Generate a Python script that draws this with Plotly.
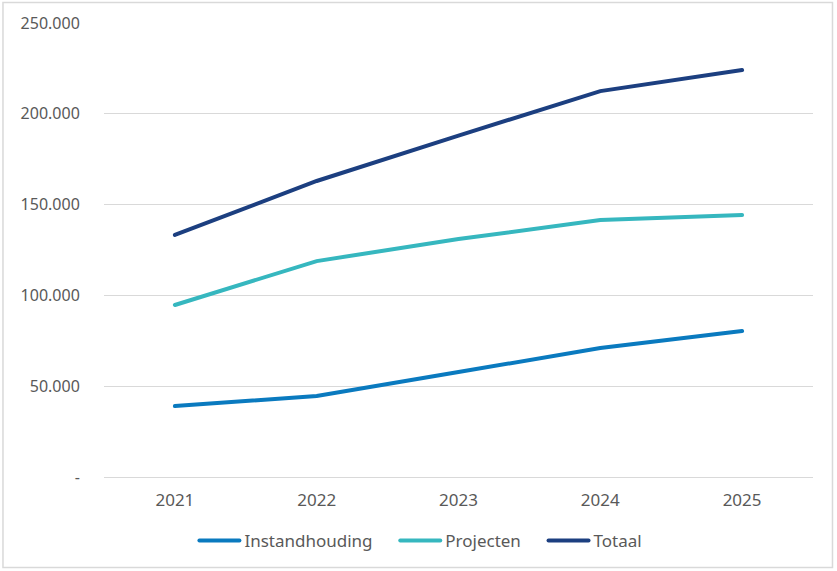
import plotly.graph_objects as go

years = ["2021", "2022", "2023", "2024", "2025"]
instandhouding = [39100, 44600, 57800, 71000, 80400]
projecten = [94700, 118900, 131000, 141500, 144300]
totaal = [133300, 163000, 188000, 212500, 224100]

series_names = ["Instandhouding", "Projecten", "Totaal"]
series_colors = ["#0a7abf", "#36b7bf", "#1c3f80"]

y_tickvals = [0, 50000, 100000, 150000, 200000, 250000]
y_ticktext = ["-", "50.000", "100.000", "150.000", "200.000", "250.000"]

font_family = "Noto Sans"
text_color = "#595959"
grid_color = "#d9d9d9"

pad = "\u00a0" * 4
fig = go.Figure()
for i, (name, vals, col) in enumerate(zip(series_names, [instandhouding, projecten, totaal], series_colors)):
    label = name + (pad if i < len(series_names) - 1 else "")
    fig.add_trace(go.Scatter(
        x=years, y=vals, name=label, mode="lines",
        line=dict(color=col, width=4),
    ))

fig.update_layout(
    width=837, height=571,
    margin=dict(l=104, r=24, t=23, b=94),
    paper_bgcolor="white", plot_bgcolor="white",
    font=dict(family=font_family, size=16, color=text_color),
    showlegend=True,
    legend=dict(
        orientation="h", x=0.447, xanchor="center", y=-0.141, yanchor="middle",
        font=dict(family=font_family, size=17, color=text_color),
        itemwidth=40, tracegroupgap=0,
    ),
    xaxis=dict(
        type="category", range=[-0.5, 4.5],
        showgrid=False, zeroline=False, showline=False,
        ticks="outside", ticklen=8, tickcolor="rgba(0,0,0,0)",
        tickfont=dict(size=17, color=text_color),
    ),
    yaxis=dict(
        range=[0, 250000],
        tickvals=y_tickvals, ticktext=y_ticktext,
        showgrid=True, gridcolor=grid_color, gridwidth=1,
        zeroline=True, zerolinecolor=grid_color, zerolinewidth=1,
        showline=False,
        ticks="outside", ticklen=20, tickcolor="rgba(0,0,0,0)",
        tickfont=dict(size=16, color=text_color),
    ),
    shapes=[dict(
        type="rect", xref="paper", yref="paper",
        x0=-0.1425, x1=1.0275, y0=-0.1993, y1=1.0452,
        line=dict(color="#d9d9d9", width=1.5), fillcolor="rgba(0,0,0,0)",
        layer="below",
    )],
)

post = """
document.body.style.margin='0px';
function roundCaps(){
  document.querySelectorAll('path.js-line').forEach(function(p){p.style.strokeLinecap='round';});
}
roundCaps();
var gd = document.getElementById('{plot_id}');
if (gd && gd.on) { gd.on('plotly_afterplot', roundCaps); }
setTimeout(roundCaps, 100);
"""

fig.write_html("out.html", config={"displayModeBar": False}, post_script=post)
